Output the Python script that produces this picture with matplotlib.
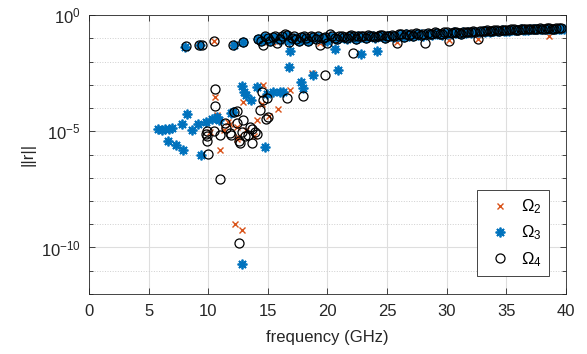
import numpy as np
import matplotlib.pyplot as plt
from matplotlib.ticker import FixedLocator, NullFormatter

plt.rcParams['font.family'] = ['Liberation Sans', 'DejaVu Sans']
plt.rcParams['mathtext.fontset'] = 'stix'
plt.rcParams['mathtext.default'] = 'regular'

# frequency sweep where all three domains sit in the upper band
f_band = [14.2, 14.6, 15.0, 15.4, 15.8, 16.2, 16.6, 17.0, 17.4, 17.8, 18.2, 18.6,
          19.0, 19.4, 19.8, 20.2, 20.6, 21.0, 21.4, 21.8, 22.2, 22.6, 23.0, 23.4,
          23.8, 24.2, 24.6, 25.0, 25.4, 25.8, 26.2, 26.6, 27.0, 27.4, 27.8, 28.2,
          28.6, 29.0, 29.4, 29.8, 30.2, 30.6, 31.0, 31.4, 31.8, 32.2, 32.6, 33.0,
          33.4, 33.8, 34.2, 34.6, 35.0, 35.4, 35.8, 36.2, 36.6, 37.0, 37.4, 37.8,
          38.2, 38.6, 39.0, 39.4]
f_band2 = [14.4, 14.8, 15.2, 15.6, 16.0, 16.4, 16.8, 17.2, 17.6, 18.0, 18.4, 18.8,
           19.2, 19.6, 20.0, 20.4, 20.8, 21.2, 21.6, 22.0, 22.4, 22.8, 23.2, 23.6,
           24.0, 24.4, 24.8, 25.2, 25.6, 26.0, 26.4, 26.8, 27.2, 27.6, 28.0, 28.4,
           28.8, 29.2, 29.6, 30.0, 30.4, 30.8, 31.2, 31.6, 32.0, 32.4, 32.8, 33.2,
           33.6, 34.0, 34.4, 34.8, 35.2, 35.6, 36.0, 36.4, 36.8, 37.2, 37.6, 38.0,
           38.4, 38.8, 39.2, 39.6]

r2_band = [0.095, 0.07, 0.10, 0.11, 0.07, 0.12, 0.13, 0.10, 0.09, 0.11, 0.10, 0.12,
           0.09, 0.06, 0.11, 0.14, 0.10, 0.12, 0.11, 0.12, 0.12, 0.13, 0.12, 0.14,
           0.12, 0.13, 0.14, 0.12, 0.14, 0.07, 0.15, 0.16, 0.15, 0.17, 0.14, 0.16,
           0.16, 0.18, 0.16, 0.18, 0.085, 0.19, 0.17, 0.19, 0.18, 0.20, 0.09, 0.21,
           0.22, 0.20, 0.22, 0.23, 0.22, 0.24, 0.23, 0.25, 0.24, 0.26, 0.25, 0.27,
           0.26, 0.125, 0.26, 0.27]
r3_band = [0.09, 0.10, 0.095, 0.10, 0.10, 0.11, 0.12, 0.09, 0.10, 0.10, 0.095, 0.11,
           0.10, 0.10, 0.10, 0.12, 0.11, 0.11, 0.10, 0.11, 0.11, 0.12, 0.11, 0.12,
           0.12, 0.12, 0.13, 0.12, 0.13, 0.13, 0.14, 0.15, 0.14, 0.15, 0.15, 0.16,
           0.15, 0.17, 0.16, 0.17, 0.17, 0.18, 0.17, 0.18, 0.18, 0.19, 0.19, 0.20,
           0.21, 0.20, 0.21, 0.22, 0.21, 0.23, 0.22, 0.24, 0.23, 0.25, 0.24, 0.25,
           0.25, 0.24, 0.25, 0.26]
r3_band2 = [0.075, 0.11, 0.08, 0.10, 0.085, 0.12, 0.075, 0.10, 0.08, 0.11, 0.08, 0.10,
            0.11, 0.09, 0.08, 0.10, 0.09, 0.11, 0.09, 0.12, 0.09, 0.11, 0.10, 0.12,
            0.10, 0.12, 0.10, 0.12, 0.11, 0.13, 0.11, 0.13, 0.12, 0.14, 0.13, 0.15,
            0.14, 0.15, 0.14, 0.16, 0.15, 0.17, 0.15, 0.17, 0.17, 0.18, 0.18, 0.19,
            0.19, 0.20, 0.20, 0.21, 0.21, 0.22, 0.22, 0.23, 0.23, 0.24, 0.24, 0.25,
            0.25, 0.25, 0.26, 0.26]
r4_band = [0.095, 0.052, 0.10, 0.11, 0.06, 0.12, 0.14, 0.10, 0.09, 0.11, 0.10, 0.12,
           0.09, 0.052, 0.11, 0.16, 0.10, 0.12, 0.11, 0.12, 0.12, 0.13, 0.12, 0.14,
           0.12, 0.13, 0.14, 0.12, 0.14, 0.062, 0.15, 0.16, 0.15, 0.17, 0.14, 0.062,
           0.16, 0.18, 0.16, 0.18, 0.08, 0.19, 0.17, 0.19, 0.18, 0.20, 0.09, 0.21,
           0.22, 0.20, 0.22, 0.23, 0.22, 0.24, 0.23, 0.25, 0.24, 0.26, 0.25, 0.27,
           0.26, 0.27, 0.26, 0.27]
r4_band2 = [0.08, 0.13, 0.075, 0.12, 0.09, 0.15, 0.07, 0.12, 0.08, 0.13, 0.075, 0.11,
            0.13, 0.10, 0.065, 0.12, 0.09, 0.13, 0.10, 0.14, 0.09, 0.12, 0.10, 0.13,
            0.11, 0.14, 0.10, 0.13, 0.12, 0.15, 0.11, 0.14, 0.13, 0.16, 0.15, 0.17,
            0.15, 0.17, 0.15, 0.18, 0.17, 0.18, 0.16, 0.19, 0.18, 0.19, 0.20, 0.20,
            0.21, 0.22, 0.21, 0.23, 0.22, 0.24, 0.23, 0.24, 0.25, 0.25, 0.26, 0.26,
            0.27, 0.26, 0.27, 0.28]

# remaining points of each domain
f2 = [9.2, 10.5, 12.1, 18.67, 14.6, 16.86, 12.94, 10.57, 15.88, 14.48, 14.06, 11.65,
      11.8, 10.7, 11.0, 12.52, 12.45, 13.2, 10.15, 12.39, 13.8, 11.3, 15.1, 12.24, 12.8]
r2 = [0.05, 0.073, 0.05, 3.1e-3, 9.5e-4, 5.9e-4, 1.8e-4, 3.0e-4, 9.5e-5, 1.55e-4,
      3.0e-5, 2.5e-5, 2.1e-5, 4.9e-5, 1.5e-6, 5.6e-6, 4.8e-6, 1.1e-5, 9.3e-6, 1.55e-5,
      6.0e-6, 1.1e-5, 4.5e-5, 9.8e-10, 5.8e-10]

f3 = [8.05, 9.3, 12.15, 12.95, 39.8, 16.85, 20.6, 22.8, 24.15,
      5.8, 6.1, 6.4, 6.7, 7.0, 6.6, 7.3, 7.85, 9.4, 7.8, 8.2, 9.1, 8.65, 9.8, 10.3,
      10.7, 10.9, 11.9, 12.1, 12.8, 13.0, 13.2, 13.6, 14.06, 14.9, 15.46, 16.0, 16.3,
      14.76, 16.75, 17.8, 17.97, 18.8, 20.9, 12.8]
r3 = [0.044, 0.05, 0.05, 0.066, 0.25, 0.028, 0.035, 0.021, 0.027,
      1.2e-5, 1.1e-5, 1.3e-5, 1.2e-5, 1.35e-5, 4.0e-6, 2.5e-6, 1.5e-6, 9.3e-7, 2.1e-5,
      5.8e-5, 2.1e-5, 1.1e-5, 2.5e-5, 3.5e-5, 4.3e-5, 3.2e-5, 6.0e-5, 6.6e-5, 8.7e-4,
      5.0e-4, 3.5e-4, 2.2e-4, 8.1e-4, 4.2e-4, 5.0e-4, 4.8e-4, 5.0e-4, 2.1e-6, 5.9e-3,
      1.35e-3, 7.6e-4, 2.6e-3, 4.3e-3, 2.0e-11]

f4 = [8.1, 9.2, 9.45, 10.5, 12.1, 12.9, 22.1,
      10.57, 10.57, 19.8, 17.97, 16.58, 14.48, 14.9, 14.6, 14.3, 15.0, 14.85, 12.39,
      12.2, 12.94, 13.64, 13.5, 14.06, 13.9, 13.3, 13.1, 12.6, 12.65, 13.64, 9.87, 9.8,
      10.5, 11.5, 11.4, 11.0, 9.87, 9.9, 10.0, 10.98, 11.8, 11.9, 12.8, 12.4, 12.58]
r4 = [0.045, 0.05, 0.052, 0.073, 0.05, 0.066, 0.023,
      6.3e-4, 1.2e-4, 2.6e-3, 3.2e-4, 2.6e-4, 5.0e-4, 2.8e-4, 2.2e-4, 8.0e-5, 4.0e-5,
      3.5e-5, 7.6e-5, 6.6e-5, 3.0e-5, 1.3e-5, 1.5e-5, 8.0e-6, 9.0e-6, 6.8e-6, 6.5e-6,
      3.7e-6, 3.0e-6, 3.0e-6, 1.05e-5, 8.0e-6, 1.0e-5, 1.35e-5, 2.2e-5, 6.8e-6, 4.0e-6,
      6.0e-6, 1.1e-6, 9.0e-8, 8.7e-6, 6.8e-6, 9.3e-6, 2.3e-5, 1.6e-10]

orange = '#D95319'
blue = '#0072BD'
ink = '#262626'

fig = plt.figure(figsize=(5.87, 3.54), dpi=100)
ax = fig.add_axes([0.1516, 0.1695, 0.8126, 0.7881])

ax.plot(f_band + f2, r2_band + r2, linestyle='none', marker='x', ms=5,
        mew=1.0, color=orange, label=r'$\Omega_2$')
ax.plot(f_band + f_band2 + f3, r3_band + r3_band2 + r3, linestyle='none',
        marker=(8, 2, 0), ms=7, mew=1.3, color=blue, label=r'$\Omega_3$')
ax.plot(f_band + f_band2 + f4, r4_band + r4_band2 + r4, linestyle='none',
        marker='o', ms=6.5, mew=0.9, mfc='none', color='black', label=r'$\Omega_4$')

ax.set_yscale('log')
ax.set_xlim(0, 40)
ax.set_ylim(1e-12, 1e0)
ax.set_xticks(range(0, 41, 5))
ax.yaxis.set_major_locator(FixedLocator([1e-10, 1e-5, 1e0]))
ax.set_yticklabels([r'$10^{-10}$', r'$10^{-5}$', r'$10^{0}$'])
ax.yaxis.set_minor_locator(FixedLocator([10.0 ** k for k in range(-12, 1)]))
ax.yaxis.set_minor_formatter(NullFormatter())

ax.tick_params(which='both', direction='in', top=True, right=True, colors=ink,
               labelsize=12, width=0.6)
ax.tick_params(which='major', length=4)
ax.tick_params(which='minor', length=3)
ax.tick_params(axis='x', pad=7)
ax.tick_params(axis='y', pad=6)
for s in ax.spines.values():
    s.set_color(ink)
    s.set_linewidth(0.6)

ax.grid(which='major', color='#dedede', linewidth=0.8)
ax.grid(which='minor', axis='y', color='#cfcfcf', linestyle=':', linewidth=0.7)
ax.set_axisbelow(True)

ax.set_xlabel('frequency (GHz)', fontsize=12, color=ink, labelpad=8)
ax.set_ylabel('||r||', fontsize=12, color=ink, labelpad=4)

leg = ax.legend(loc='lower right', bbox_to_anchor=(0.965, 0.0645), borderaxespad=0,
                fancybox=False, edgecolor=ink, fontsize=12, labelspacing=0.45,
                handlelength=1.9, handletextpad=0.3, borderpad=0.45, framealpha=1)
leg.get_frame().set_linewidth(0.6)

fig.savefig('out.png', dpi=100)
